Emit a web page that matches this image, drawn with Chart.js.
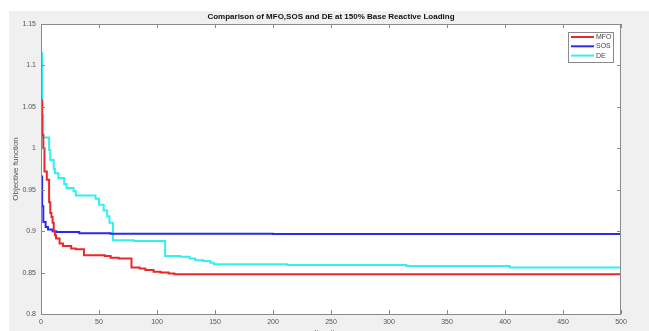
<!DOCTYPE html>
<html lang="en">
<head>
<meta charset="UTF-8">
<title>Comparison of MFO,SOS and DE at 150% Base Reactive Loading</title>
<script src="https://cdn.jsdelivr.net/npm/chart.js"></script>
<style>
  html, body { margin: 0; padding: 0; background: #fff; }
  #wrap { width: 649px; height: 331px; position: relative; }
</style>
</head>
<body>
<div id="wrap"><canvas id="chart"></canvas></div>
<script>
// step points: [iteration, objective value]
const mfoPoints = [[0,1.058],[1,1.016],[2,1.0],[3,0.972],[5,0.962],[7,0.935],[8,0.922],[9,0.917],[10,0.910],[11,0.900],[12,0.895],[13,0.891],[16,0.885],[19,0.882],[26,0.879],[30,0.878],[37,0.871],[55,0.870],[60,0.868],[67,0.867],[78,0.856],[85,0.855],[90,0.853],[97,0.851],[103,0.850],[110,0.849],[115,0.848],[300,0.848],[500,0.847]];
const sosPoints = [[0,0.966],[1,0.930],[2,0.911],[4,0.905],[6,0.902],[10,0.900],[13,0.899],[33,0.8975],[60,0.897],[200,0.8965],[500,0.8955]];
const dePoints = [[0,1.115],[1,1.04],[2,1.013],[7,0.998],[8,0.986],[11,0.975],[12,0.970],[15,0.964],[20,0.957],[22,0.952],[28,0.948],[30,0.943],[47,0.939],[50,0.932],[54,0.925],[57,0.918],[59,0.910],[62,0.889],[80,0.888],[107,0.870],[120,0.869],[128,0.867],[133,0.865],[140,0.864],[146,0.862],[149,0.860],[212,0.859],[315,0.858],[404,0.856],[500,0.856]];

const seriesNames = ['MFO', 'SOS', 'DE'];
const seriesColors = ['#e8292b', '#2b2bea', '#2ff0f2'];
const xTickValues = [0, 50, 100, 150, 200, 250, 300, 350, 400, 450, 500];
const yTickValues = [0.8, 0.85, 0.9, 0.95, 1, 1.05, 1.1, 1.15];

const titleText = 'Comparison of MFO,SOS and DE at 150% Base Reactive Loading';
const xLabel = 'Iterations';
const yLabel = 'Objective function';

const FONT = '"Liberation Sans", Arial, sans-serif';

function toXY(arr) {
  return arr.map(p => ({ x: p[0], y: p[1] }));
}

const matlabLook = {
  id: 'matlabLook',
  beforeDraw(chart) {
    const ctx = chart.ctx;
    const a = chart.chartArea;
    ctx.save();
    ctx.fillStyle = '#ffffff';
    ctx.fillRect(0, 0, chart.width, chart.height);
    ctx.fillStyle = '#f0f0f0';
    ctx.fillRect(9, 11, chart.width - 9, chart.height - 11);
    ctx.fillStyle = '#ffffff';
    ctx.fillRect(a.left, a.top, a.right - a.left, a.bottom - a.top);
    ctx.restore();
  },
  afterDraw(chart) {
    const ctx = chart.ctx;
    const a = chart.chartArea;
    const xs = chart.scales.x, ys = chart.scales.y;
    ctx.save();
    // box
    ctx.strokeStyle = '#8a8a8a';
    ctx.lineWidth = 1;
    ctx.strokeRect(a.left + 0.5, a.top + 0.5, a.right - a.left - 1, a.bottom - a.top);
    // inside ticks
    ctx.beginPath();
    const tl = 4;
    xTickValues.forEach(v => {
      const px = Math.round(xs.getPixelForValue(v)) + 0.5;
      ctx.moveTo(px, a.bottom); ctx.lineTo(px, a.bottom - tl);
      ctx.moveTo(px, a.top); ctx.lineTo(px, a.top + tl);
    });
    yTickValues.forEach(v => {
      const py = Math.round(ys.getPixelForValue(v)) + 0.5;
      ctx.moveTo(a.left, py); ctx.lineTo(a.left + tl, py);
      ctx.moveTo(a.right, py); ctx.lineTo(a.right - tl, py);
    });
    ctx.stroke();

    // title
    ctx.fillStyle = '#111';
    ctx.font = 'bold 8px ' + FONT;
    ctx.textAlign = 'center';
    ctx.textBaseline = 'middle';
    ctx.fillText(titleText, (a.left + a.right) / 2, 17);

    // x axis label (cut off at the bottom edge)
    ctx.fillStyle = '#555';
    ctx.font = '8px ' + FONT;
    ctx.fillText(xLabel, (a.left + a.right) / 2, 333);

    // legend
    const bx = 568, by = 32, bw = 45, bh = 30;
    ctx.fillStyle = '#ffffff';
    ctx.fillRect(bx, by, bw, bh);
    ctx.strokeStyle = '#8a8a8a';
    ctx.strokeRect(bx + 0.5, by + 0.5, bw, bh);
    ctx.font = '7px ' + FONT;
    ctx.textAlign = 'left';
    chart.data.datasets.forEach((ds, i) => {
      const y = by + 5 + i * 9.3;
      ctx.strokeStyle = ds.borderColor;
      ctx.lineWidth = 2;
      ctx.beginPath();
      ctx.moveTo(bx + 3, y); ctx.lineTo(bx + 26, y);
      ctx.stroke();
      ctx.fillStyle = '#444';
      ctx.fillText(ds.label, bx + 28, y);
    });
    ctx.restore();
  }
};

const ctx = document.getElementById('chart').getContext('2d');
new Chart(ctx, {
  type: 'line',
  data: {
    datasets: [
      { label: seriesNames[0], data: toXY(mfoPoints), borderColor: seriesColors[0] },
      { label: seriesNames[1], data: toXY(sosPoints), borderColor: seriesColors[1] },
      { label: seriesNames[2], data: toXY(dePoints), borderColor: seriesColors[2] }
    ].map(d => Object.assign(d, { borderWidth: 2, pointRadius: 0, stepped: 'before', tension: 0, fill: false }))
  },
  options: {
    responsive: true,
    maintainAspectRatio: false,
    animation: false,
    layout: { padding: { left: 0, top: 24, right: 28, bottom: 0 } },
    plugins: {
      legend: { display: false },
      title: { display: false },
      tooltip: { enabled: false }
    },
    scales: {
      x: {
        type: 'linear',
        min: 0, max: 500,
        afterFit(s) { s.height = 17; },
        afterBuildTicks(s) { s.ticks = xTickValues.map(v => ({ value: v })); },
        grid: { display: false, drawTicks: false, tickLength: 0 },
        border: { display: false },
        ticks: { color: '#555', font: { family: FONT, size: 7 }, padding: 4, maxRotation: 0, autoSkip: false }
      },
      y: {
        type: 'linear',
        min: 0.8, max: 1.15,
        afterFit(s) { s.width = 41; },
        afterBuildTicks(s) { s.ticks = yTickValues.map(v => ({ value: v })); },
        grid: { display: false, drawTicks: false, tickLength: 0 },
        border: { display: false },
        title: { display: true, text: yLabel, color: '#555', font: { family: FONT, size: 8 }, padding: { top: 11, bottom: 0 } },
        ticks: {
          color: '#555', font: { family: FONT, size: 7 }, padding: 5, autoSkip: false,
          callback: v => String(Number(v.toFixed(2)))
        }
      }
    }
  },
  plugins: [matlabLook]
});
</script>
</body>
</html>
